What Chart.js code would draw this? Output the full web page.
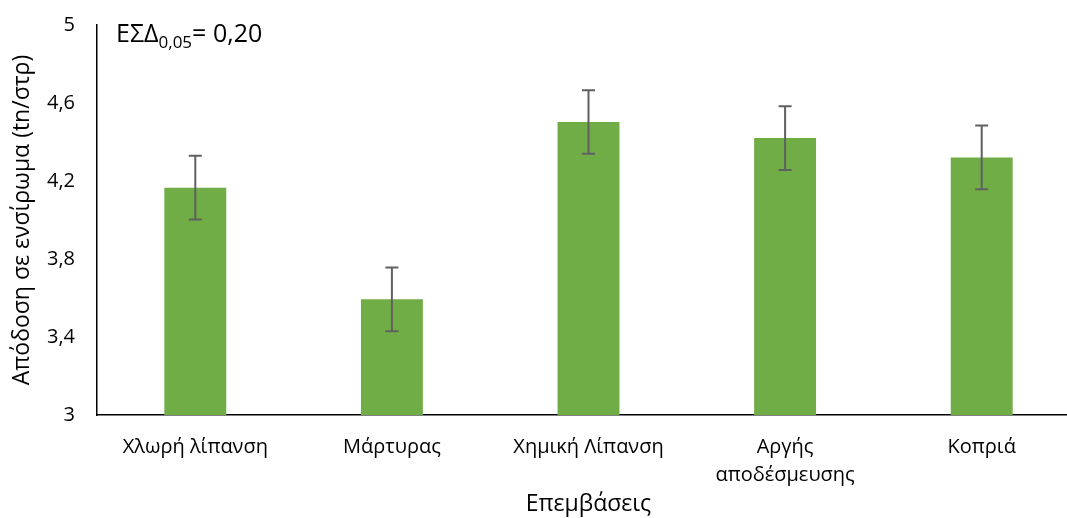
<!DOCTYPE html>
<html>
<head>
<meta charset="utf-8">
<script src="https://cdn.jsdelivr.net/npm/chart.js@4/dist/chart.umd.min.js"></script>
<style>
  html, body { margin: 0; padding: 0; overflow: hidden; background: #fff; }
  #wrap { width: 1080px; height: 518px; position: relative; }
</style>
</head>
<body>
<div id="wrap"><canvas id="chart"></canvas></div>
<script>
const categories = ['Χλωρή λίπανση', 'Μάρτυρας', 'Χημική Λίπανση', ['Αργής', 'αποδέσμευσης'], 'Κοπριά'];
const yields = [4.166, 3.593, 4.503, 4.42, 4.321];
const errors = [0.163, 0.163, 0.163, 0.163, 0.163];
const yTicks = [3, 3.4, 3.8, 4.2, 4.6, 5];

const FONT = '"Open Sans", "Noto Sans", sans-serif';

// error bars drawn from the y scale
const errorBars = {
  id: 'errorBars',
  afterDatasetsDraw(chart) {
    const { ctx, scales: { y } } = chart;
    const meta = chart.getDatasetMeta(0);
    ctx.save();
    ctx.strokeStyle = '#606060';
    ctx.lineWidth = 2;
    meta.data.forEach((bar, i) => {
      const top = y.getPixelForValue(yields[i] + errors[i]);
      const bot = y.getPixelForValue(yields[i] - errors[i]);
      ctx.beginPath();
      ctx.moveTo(bar.x, top);
      ctx.lineTo(bar.x, bot);
      ctx.moveTo(bar.x - 6.5, top);
      ctx.lineTo(bar.x + 6.5, top);
      ctx.moveTo(bar.x - 6.5, bot);
      ctx.lineTo(bar.x + 6.5, bot);
      ctx.stroke();
    });
    ctx.restore();
  }
};

// ΕΣΔ note in the top-left corner
const lsdNote = {
  id: 'lsdNote',
  afterDraw(chart) {
    const { ctx, chartArea } = chart;
    ctx.save();
    ctx.fillStyle = '#000';
    ctx.textBaseline = 'alphabetic';
    let x = chartArea.left + 19;
    const base = 42;
    ctx.font = '25px ' + FONT;
    ctx.fillText('ΕΣΔ', x, base);
    x += ctx.measureText('ΕΣΔ').width;
    ctx.font = '17px ' + FONT;
    ctx.fillText('0,05', x, base + 6);
    x += ctx.measureText('0,05').width;
    ctx.font = '25px ' + FONT;
    ctx.fillText('= 0,20', x, base);
    ctx.restore();
  }
};

new Chart(document.getElementById('chart'), {
  type: 'bar',
  data: {
    labels: categories,
    datasets: [{
      data: yields,
      backgroundColor: '#70AD47',
      categoryPercentage: 1,
      barPercentage: 0.315
    }]
  },
  options: {
    responsive: true,
    maintainAspectRatio: false,
    animation: false,
    layout: { padding: { top: 25, right: 0, left: 0, bottom: 0 } },
    plugins: {
      legend: { display: false },
      tooltip: { enabled: false }
    },
    scales: {
      x: {
        grid: { display: false, drawTicks: false },
        border: { display: true, color: '#000', width: 1.5 },
        ticks: {
          color: '#000',
          font: { family: FONT, size: 20, lineHeight: 1.4 },
          padding: 18,
          maxRotation: 0
        },
        title: {
          display: true,
          text: 'Επεμβάσεις',
          color: '#000',
          font: { family: FONT, size: 23 },
          padding: { top: 0, bottom: 0 }
        },
        afterFit: (s) => { s.height = 103; }
      },
      y: {
        min: 3,
        max: 5,
        afterBuildTicks: (s) => { s.ticks = yTicks.map((v) => ({ value: v })); },
        grid: { display: false, drawTicks: false },
        border: { display: true, color: '#000', width: 1.5 },
        ticks: {
          color: '#000',
          font: { family: FONT, size: 20 },
          padding: 22,
          callback: (v) => String(Math.round(v * 10) / 10).replace('.', ',')
        },
        title: {
          display: true,
          text: 'Απόδοση σε ενσίρωμα (tn/στρ)',
          color: '#000',
          font: { family: FONT, size: 23 },
          padding: { top: 9, bottom: 0 }
        },
        afterFit: (s) => {
          s.width = 97;
          s.paddingTop = 0;
          s.paddingBottom = 0;
        }
      }
    }
  },
  plugins: [errorBars, lsdNote]
});
</script>
</body>
</html>
